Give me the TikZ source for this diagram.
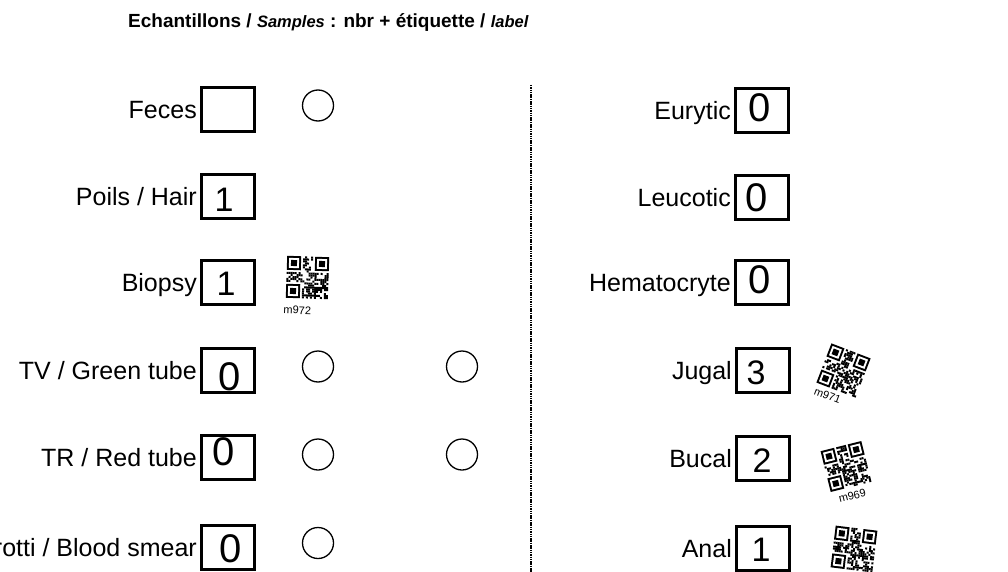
\documentclass[tikz,border=0pt]{standalone}
\usepackage{fontspec}
\setmainfont{Liberation Sans}
\newcommand\myqr[1]{%
  \pgfmathsetseed{#1}%
  \foreach \i in {0,...,20}{\foreach \j in {0,...,20}{%
    \pgfmathtruncatemacro\res{((\i<8 && \j<8) || (\i>12 && \j<8) || (\i<8 && \j>12)) ? 0 : (rnd<0.55 ? 1 : 0)}%
    \ifnum\res=1 \fill (\i*2-21,\j*2-21) rectangle ++(2,2);\fi
  }}%
  \foreach \a/\b in {-21/-21, 7/-21, -21/7}{%
    \fill (\a,\b) rectangle ++(14,14);
    \fill[white] (\a+2,\b+2) rectangle ++(10,10);
    \fill (\a+4,\b+4) rectangle ++(6,6);
  }%
}
\begin{document}
\begin{tikzpicture}[x=1pt,y=-1pt,
  lbl/.style={anchor=base east, font=\fontsize{25}{30}\selectfont, inner sep=0pt},
  cntbox/.style={draw, line width=2.6pt, minimum width=53.4pt, minimum height=44.4pt, inner sep=0pt},
  ring/.style={draw, circle, line width=1.3pt, minimum size=31pt, inner sep=0pt},
  hw/.style={inner sep=0pt, font=\fontsize{34}{36}\selectfont},
  hwz/.style={inner sep=0pt, font=\fontsize{40}{42}\selectfont},
  qrtxt/.style={inner sep=0pt, font=\fontsize{11}{12}\selectfont, transform shape},
  sep/.style={line width=1.3pt, dash pattern=on 1.5pt off 0.8pt}
]
\useasboundingbox (0,0) rectangle (1008,572);
\clip (0,0) rectangle (1008,572);

% title
\node[anchor=base west, inner sep=0pt, font=\fontsize{19}{23}\selectfont\bfseries] (title) at (128,28)
  {Echantillons / {\itshape\fontsize{16.5}{19}\selectfont Samples} : nbr + étiquette / {\itshape\fontsize{16.5}{19}\selectfont label}};

% left column boxes
\node[cntbox] (b1) at (228,109.5) {};
\node[cntbox] (b2) at (228,196.5) {};
\node[cntbox] (b3) at (228,282.5) {};
\node[cntbox] (b4) at (228,370.5) {};
\node[cntbox] (b5) at (228,457.5) {};
\node[cntbox] (b6) at (228,547.5) {};

\node[lbl] (l1) at ([xshift=-3pt,yshift=-9pt]b1.west) {Feces};
\node[lbl] (l2) at ([xshift=-3pt,yshift=-9pt]b2.west) {Poils / Hair};
\node[lbl] (l3) at ([xshift=-3pt,yshift=-9pt]b3.west) {Biopsy};
\node[lbl] (l4) at ([xshift=-3pt,yshift=-9pt]b4.west) {TV / Green tube};
\node[lbl] (l5) at ([xshift=-3pt,yshift=-9pt]b5.west) {TR / Red tube};
\node[lbl] (l6) at ([xshift=-3pt,yshift=-9pt]b6.west) {Frotti / Blood smear};

% handwritten counts, left
\node[hw] (d2) at (224,200) {1};
\node[hw] (d3) at (226,284) {1};
\node[hwz] (d4) at (230,377) {0};
\node[hwz] (d5) at (224,452) {0};
\node[hwz] (d6) at (231,549) {0};

% circles
\node[ring] (c1a) at (318,105.5) {};
\node[ring] (c4a) at (318,366.5) {};
\node[ring] (c4b) at (462,366.5) {};
\node[ring] (c5a) at (318,454.5) {};
\node[ring] (c5b) at (462,454.5) {};
\node[ring] (c6a) at (318,543) {};

% separator
\coordinate (s1) at (531,85);
\coordinate (s2) at (531,572);
\draw[sep] (s1) -- (s2);

% right column boxes
\node[cntbox] (r1) at (762,110.5) {};
\node[cntbox] (r2) at (762,197.5) {};
\node[cntbox] (r3) at (762,282.5) {};
\node[cntbox] (r4) at (763,370.5) {};
\node[cntbox] (r5) at (763,458.5) {};
\node[cntbox] (r6) at (763,548.5) {};

\node[lbl] (m1) at ([xshift=-3pt,yshift=-9pt]r1.west) {Eurytic};
\node[lbl] (m2) at ([xshift=-3pt,yshift=-9pt]r2.west) {Leucotic};
\node[lbl] (m3) at ([xshift=-3pt,yshift=-9pt]r3.west) {Hematocryte};
\node[lbl] (m4) at ([xshift=-3pt,yshift=-9pt]r4.west) {Jugal};
\node[lbl] (m5) at ([xshift=-3pt,yshift=-9pt]r5.west) {Bucal};
\node[lbl] (m6) at ([xshift=-3pt,yshift=-9pt]r6.west) {Anal};

\node[hwz] (e1) at (760,108) {0};
\node[hwz] (e2) at (757,198) {0};
\node[hwz] (e3) at (760,280) {0};
\node[hw] (e4) at (756,373) {3};
\node[hw] (e5) at (762,461) {2};
\node[hw] (e6) at (761,550) {1};

% QR labels
\begin{scope}[shift={(307.5,277.5)}, rotate=-2]
  \myqr{11}
  \node[qrtxt] (q1) at (-9,33) {m972};
\end{scope}
\begin{scope}[shift={(843.5,370.5)}, rotate=-21]
  \myqr{23}
  \node[qrtxt] (q2) at (-6,29) {m971};
\end{scope}
\begin{scope}[shift={(846,466.5)}, rotate=14]
  \myqr{37}
  \node[qrtxt] (q3) at (-1,30) {m969};
\end{scope}
\begin{scope}[shift={(854,549)}, rotate=-7]
  \myqr{41}
\end{scope}
\end{tikzpicture}
\end{document}
